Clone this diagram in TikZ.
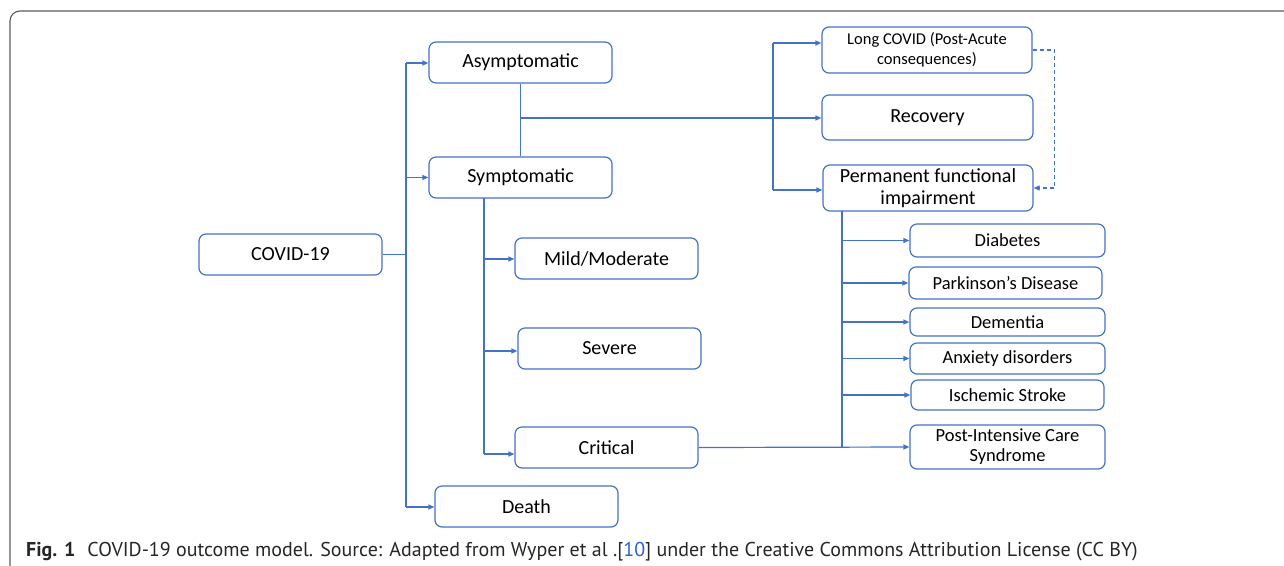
\documentclass[tikz,border=0pt]{standalone}
\usepackage{fontspec}
\setmainfont{Carlito}
\newfontfamily\capfont{PT Sans}
\usetikzlibrary{arrows.meta}
\definecolor{bl}{HTML}{4472C4}
\definecolor{lnk}{HTML}{2C5FD8}
\definecolor{frm}{HTML}{5A5A5A}
\tikzset{
  box/.style={draw=bl, line width=1.2pt, rounded corners=7pt, inner sep=0pt, align=center, text=black, font=\fontsize{20}{22}\selectfont},
  sbox/.style={box, font=\fontsize{18.5}{20}\selectfont},
  tbox/.style={box, font=\fontsize{16.5}{20}\selectfont},
  ln/.style={draw=bl, line width=1.2pt},
  arr/.style={ln, -{Triangle[length=6pt,width=5pt]}},
}
\begin{document}
\begin{tikzpicture}[x=1pt,y=-1pt]
\useasboundingbox (0,0) rectangle (1284,565);
% frame
\draw[frm, line width=1.1pt, rounded corners=10pt] (10,570) -- (10,11) -- (1290,11);
% boxes
\node[box, minimum width=183pt, minimum height=41pt] (asym) at (520.5,62.5) {Asymptomatic};
\node[box, minimum width=183pt, minimum height=41pt] (sym) at (520.5,177.5) {Symptomatic};
\node[box, minimum width=183pt, minimum height=41pt] (covid) at (290.5,254.5) {COVID-19};
\node[box, minimum width=183pt, minimum height=41pt] (mild) at (606.5,258.5) {Mild/Moderate};
\node[box, minimum width=183pt, minimum height=41pt] (severe) at (609.5,348.5) {Severe};
\node[box, minimum width=183pt, minimum height=41pt] (critical) at (606.5,447.5) {Critical};
\node[box, minimum width=183pt, minimum height=41pt] (death) at (526.5,506.5) {Death};
\node[tbox, minimum width=210pt, minimum height=46pt] (longc) at (927,50) {Long COVID (Post-Acute\\consequences)};
\node[box, minimum width=211pt, minimum height=45pt] (recov) at (927.5,117.5) {Recovery};
\node[box, minimum width=210pt, minimum height=46pt] (perm) at (928,188) {Permanent functional\\impairment};
\node[sbox, minimum width=195pt, minimum height=33pt] (diab) at (1007.5,240.5) {Diabetes};
\node[sbox, minimum width=193pt, minimum height=32pt] (park) at (1005.5,283) {Parkinson’s Disease};
\node[sbox, minimum width=195pt, minimum height=28pt] (dem) at (1007.5,322) {Dementia};
\node[sbox, minimum width=195pt, minimum height=31pt] (anx) at (1007.5,358.5) {Anxiety disorders};
\node[sbox, minimum width=193pt, minimum height=30pt] (isch) at (1007.5,395) {Ischemic Stroke};
\node[sbox, minimum width=195pt, minimum height=44pt] (pics) at (1007.5,447) {Post-Intensive Care\\Syndrome};
% trunk from COVID-19
\coordinate (t1) at (406,63);
\coordinate (t2) at (406,507);
\draw[ln] (t1) -- (t2);
\draw[ln] (covid.east) -- (covid.east -| t1);
\draw[arr] (t1) -- (t1 -| asym.west);
\draw[arr] (t1 |- sym.west) -- (sym.west);
\draw[arr] (t2) -- (t2 -| death.west);
% asymptomatic / symptomatic to outcomes
\draw[ln] (asym.south) -- (sym.north);
\coordinate (r0) at (520.5,118);
\draw[arr] (r0) -- (r0 -| recov.west);
\coordinate (b1) at (773,43);
\coordinate (b2) at (773,190);
\draw[ln] (b1) -- (b2);
\draw[arr] (b1) -- (b1 -| longc.west);
\draw[arr] (b2) -- (b2 -| perm.west);
\draw[arr, dashed, dash pattern=on 4pt off 3pt] (longc.east) -- ++(22,0) |- (perm.east);
% symptomatic severity
\coordinate (s0) at (484,198);
\coordinate (s3) at (484,454);
\draw[ln] (s0) -- (s3);
\draw[arr] (s0 |- 0,259) -- (mild.west |- 0,259);
\draw[arr] (s0 |- 0,351) -- (severe.west |- 0,351);
\draw[arr] (s3) -- (s3 -| critical.west);
% critical / permanent to conditions
\draw[arr] (critical.east) -- (pics.west);
\coordinate (p0) at (842,211);
\coordinate (p1) at (842,447);
\draw[ln] (p0) -- (p1);
\draw[arr] (p0 |- diab.west) -- (diab.west);
\draw[arr] (p0 |- park.west) -- (park.west);
\draw[arr] (p0 |- dem.west) -- (dem.west);
\draw[arr] (p0 |- anx.west) -- (anx.west);
\draw[arr] (p0 |- isch.west) -- (isch.west);
% caption
\node[anchor=base west, inner sep=0pt, font=\capfont\fontsize{20}{22}\selectfont, text=black!85] (cap) at (26,556.5) {\textbf{Fig. 1}\hspace{0.6em}COVID-19 outcome model. Source: Adapted from Wyper et al .[\textcolor{lnk}{10}] under the Creative Commons Attribution License (CC BY)};
\end{tikzpicture}
\end{document}
